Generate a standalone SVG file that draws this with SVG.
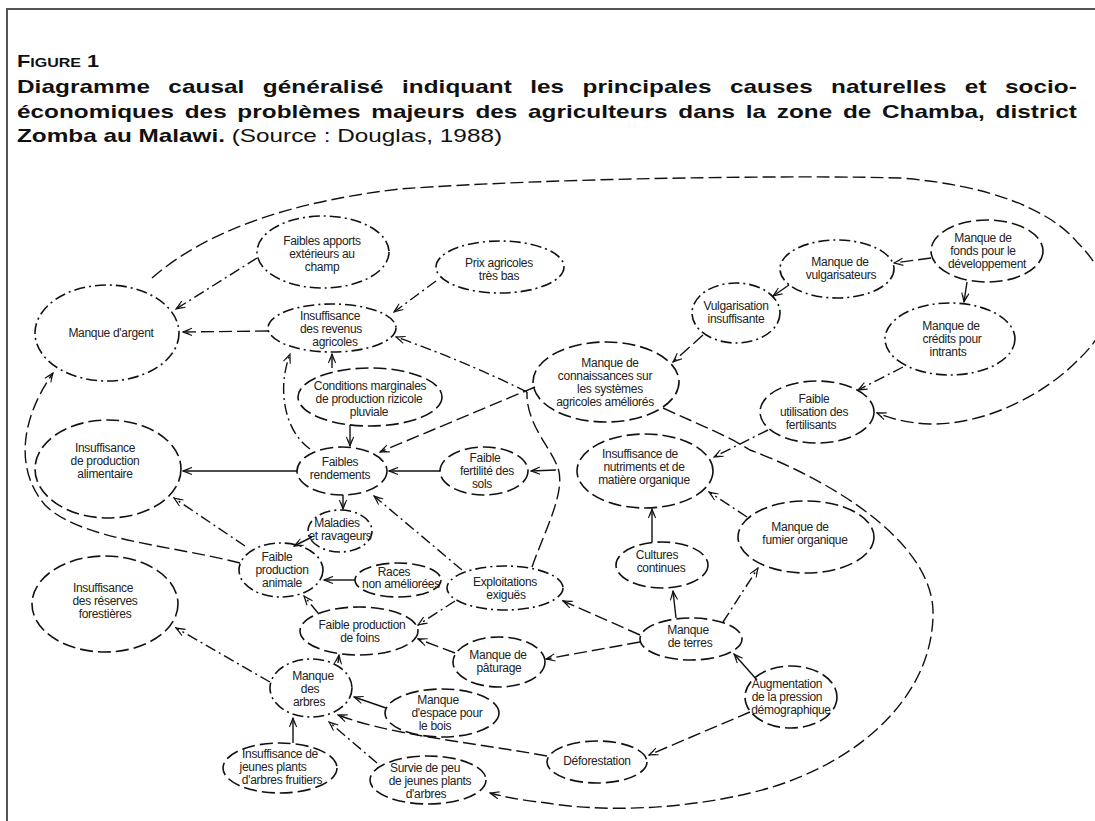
<svg xmlns="http://www.w3.org/2000/svg" width="1095" height="821" viewBox="0 0 1095 821">
  <defs>
    <style>
      .lbl { font-family: "Liberation Sans", Arial, sans-serif; font-size: 12px; fill: #222; text-anchor: middle; letter-spacing: -0.3px; }
      .ttl { font-family: "Liberation Sans", Arial, sans-serif; font-size: 19px; fill: #111; font-weight: bold; }
      .node ellipse { fill: none; stroke: #111; stroke-width: 1.6; }
      .dsh { stroke-dasharray: 13 5; }
      .dd { stroke-dasharray: 11 4 2 4; }
      #connectors path { fill: none; stroke: #111; stroke-width: 1.4; marker-end: url(#arr); }
      #connectors path.nohead { marker-end: none; }
    </style>
    <marker id="arr" viewBox="0 0 12 10" refX="11" refY="5" markerWidth="11" markerHeight="9" orient="auto" markerUnits="userSpaceOnUse">
      <path d="M1,1 L11,5 L1,9 M4,2.6 L11,5 L4,7.4" fill="none" stroke="#111" stroke-width="1.2"/>
    </marker>
  </defs>

  <rect width="1095" height="821" fill="#fff"/>

  <!-- frame -->
  <path d="M7,821 V9 H1095" fill="none" stroke="#555" stroke-width="2"/>

  <!-- heading, set in a horizontally widened face -->
  <g id="heading" transform="translate(17,0) scale(1.28,1)">
    <text class="ttl" x="0" y="67"><tspan font-size="17">F</tspan><tspan font-size="12.5">IGURE</tspan><tspan font-size="17"> 1</tspan></text>
    <text class="ttl" x="0" y="93" word-spacing="9" textLength="828" lengthAdjust="spacing">Diagramme causal généralisé indiquant les principales causes naturelles et socio-</text>
    <text class="ttl" x="0" y="118" word-spacing="3" textLength="828" lengthAdjust="spacing">économiques des problèmes majeurs des agriculteurs dans la zone de Chamba, district</text>
    <text class="ttl" x="0" y="142">Zomba au Malawi.<tspan font-weight="normal"> (Source : Douglas, 1988)</tspan></text>
  </g>

  <!-- causal links -->
  <g id="connectors">
    <path class="dd" d="M257,258 L176,309"/>
    <path class="dsh" d="M268,331 L183,332"/>
    <path class="dd" d="M436,281 L394,312"/>
    <path class="dd" d="M527,392 Q462,360 396,337"/>
    <path class="dsh" d="M535,387 L380,452"/>
    <path class="dsh nohead" d="M532,567 C545,530 566,492 558,468 C550,446 526,424 527,392"/>
    <path d="M556,470 L531,471"/>
    <path d="M332,368 L332,354"/>
    <path d="M350,425 L350,446"/>
    <path class="dd" d="M310,449 C286,432 276,392 290,354"/>
    <path d="M297,471 L183,471"/>
    <path d="M440,471 L389,471"/>
    <path d="M343,495 L343,509"/>
    <path d="M312,537 L294,546"/>
    <path class="dd" d="M462,570 L374,496"/>
    <path d="M355,580 L324,580"/>
    <path class="dd" d="M318,613 L304,596"/>
    <path class="dd" d="M455,601 L418,625"/>
    <path class="dsh" d="M455,653 L418,639"/>
    <path class="dd" d="M245,546 L174,498"/>
    <path class="dsh" d="M240,563 C170,545 80,540 45,505 C15,470 20,420 53,373"/>
    <path class="dsh" d="M703,335 L673,362"/>
    <path d="M789,285 L773,296"/>
    <path class="dsh" d="M931,258 L894,263"/>
    <path d="M967,282 L964,302"/>
    <path class="dd" d="M903,367 L858,390"/>
    <path class="dd" d="M768,430 L714,457"/>
    <path class="dd" d="M747,517 L709,492"/>
    <path d="M652,542 L652,509"/>
    <path d="M676,618 L673,591"/>
    <path class="dd" d="M723,622 L758,568"/>
    <path class="dsh" d="M640,635 L563,601"/>
    <path class="dsh" d="M640,642 L546,659"/>
    <path d="M757,680 L734,654"/>
    <path class="dsh" d="M750,712 L649,755"/>
    <path class="dsh" d="M547,756 C470,742 390,735 338,715"/>
    <path d="M386,708 L354,697"/>
    <path class="dd" d="M377,763 L329,722"/>
    <path d="M293,743 L293,718"/>
    <path d="M338,663 L339,655"/>
    <path class="dd" d="M270,682 L176,628"/>
    <path class="dsh" d="M663,408 C700,425 730,437 750,450 C830,480 930,540 933,610 C935,700 850,770 750,793 C680,810 600,812 547,803 C520,800 505,797 490,793"/>
    <path class="dsh" d="M152,278 C190,245 260,205 400,189 C550,178 800,175 900,178 C990,185 1050,210 1077,242 C1120,285 1115,325 1080,358 C1050,390 990,425 930,424 C905,423 890,418 877,413"/>
  </g>

  <!-- nodes -->
  <g id="n-manque-argent" class="node">
    <ellipse class="dd" cx="107" cy="333" rx="72" ry="48"/>
    <text class="lbl"><tspan x="111" y="337">Manque d'argent</tspan></text>
  </g>
  <g id="n-apports" class="node">
    <ellipse class="dd" cx="323" cy="252" rx="66" ry="36"/>
    <text class="lbl"><tspan x="322" y="245">Faibles apports</tspan><tspan x="322" y="258">extérieurs au</tspan><tspan x="322" y="271">champ</tspan></text>
  </g>
  <g id="n-revenus" class="node">
    <ellipse class="dd" cx="332" cy="328" rx="64" ry="24"/>
    <text class="lbl"><tspan x="330" y="320">Insuffisance</tspan><tspan x="331" y="333">des revenus</tspan><tspan x="335" y="346">agricoles</tspan></text>
  </g>
  <g id="n-prix" class="node">
    <ellipse class="dd" cx="500" cy="267" rx="64" ry="26"/>
    <text class="lbl"><tspan x="499" y="267">Prix agricoles</tspan><tspan x="499" y="280">très bas</tspan></text>
  </g>
  <g id="n-vulgarisation" class="node">
    <ellipse class="dd" cx="736" cy="313" rx="44" ry="30"/>
    <text class="lbl"><tspan x="736" y="310">Vulgarisation</tspan><tspan x="736" y="323">insuffisante</tspan></text>
  </g>
  <g id="n-connaissances" class="node">
    <ellipse class="dsh" cx="606" cy="382" rx="73" ry="40"/>
    <text class="lbl"><tspan x="610" y="367">Manque de</tspan><tspan x="605" y="380">connaissances sur</tspan><tspan x="610" y="393">les systèmes</tspan><tspan x="605" y="406">agricoles améliorés</tspan></text>
  </g>
  <g id="n-vulgarisateurs" class="node">
    <ellipse class="dd" cx="837" cy="269" rx="57" ry="29"/>
    <text class="lbl"><tspan x="840" y="266">Manque de</tspan><tspan x="841" y="279">vulgarisateurs</tspan></text>
  </g>
  <g id="n-fonds" class="node">
    <ellipse class="dsh" cx="987" cy="251" rx="56" ry="31"/>
    <text class="lbl"><tspan x="983" y="242">Manque de</tspan><tspan x="983" y="255">fonds pour le</tspan><tspan x="987" y="268">développement</tspan></text>
  </g>
  <g id="n-credits" class="node">
    <ellipse class="dd" cx="950" cy="339" rx="65" ry="36"/>
    <text class="lbl"><tspan x="951" y="330">Manque de</tspan><tspan x="952" y="343">crédits pour</tspan><tspan x="948" y="356">intrants</tspan></text>
  </g>
  <g id="n-fertilisants" class="node">
    <ellipse class="dsh" cx="817" cy="412" rx="57" ry="31"/>
    <text class="lbl"><tspan x="814" y="403">Faible</tspan><tspan x="814" y="416">utilisation des</tspan><tspan x="811" y="429">fertilisants</tspan></text>
  </g>
  <g id="n-nutriments" class="node">
    <ellipse class="dsh" cx="645" cy="471" rx="68" ry="37"/>
    <text class="lbl"><tspan x="640" y="458">Insuffisance de</tspan><tspan x="644" y="471">nutriments et de</tspan><tspan x="644" y="484">matière organique</tspan></text>
  </g>
  <g id="n-fumier" class="node">
    <ellipse class="dsh" cx="806" cy="537" rx="68" ry="36"/>
    <text class="lbl"><tspan x="800" y="531">Manque de</tspan><tspan x="805" y="544">fumier organique</tspan></text>
  </g>
  <g id="n-cultures" class="node">
    <ellipse class="dsh" cx="662" cy="565" rx="46" ry="23"/>
    <text class="lbl"><tspan x="657" y="559">Cultures</tspan><tspan x="661" y="572">continues</tspan></text>
  </g>
  <g id="n-terres" class="node">
    <ellipse class="dsh" cx="691" cy="639" rx="51" ry="21"/>
    <text class="lbl"><tspan x="688" y="634">Manque</tspan><tspan x="690" y="647">de terres</tspan></text>
  </g>
  <g id="n-demographie" class="node">
    <ellipse class="dsh" cx="791" cy="697" rx="46" ry="31"/>
    <text class="lbl"><tspan x="787" y="688">Augmentation</tspan><tspan x="787" y="701">de la pression</tspan><tspan x="791" y="714">démographique</tspan></text>
  </g>
  <g id="n-deforestation" class="node">
    <ellipse class="dsh" cx="597" cy="762" rx="50" ry="21"/>
    <text class="lbl"><tspan x="597" y="765">Déforestation</tspan></text>
  </g>
  <g id="n-survie" class="node">
    <ellipse class="dsh" cx="428" cy="780" rx="58" ry="24"/>
    <text class="lbl"><tspan x="425" y="772">Survie de peu</tspan><tspan x="430" y="785">de jeunes plants</tspan><tspan x="426" y="798">d'arbres</tspan></text>
  </g>
  <g id="n-espace" class="node">
    <ellipse class="dsh" cx="442" cy="713" rx="57" ry="24"/>
    <text class="lbl"><tspan x="438" y="704">Manque</tspan><tspan x="447" y="717">d'espace pour</tspan><tspan x="435" y="730">le bois</tspan></text>
  </g>
  <g id="n-paturage" class="node">
    <ellipse class="dsh" cx="499" cy="662" rx="46" ry="25"/>
    <text class="lbl"><tspan x="498" y="659">Manque de</tspan><tspan x="499" y="672">pâturage</tspan></text>
  </g>
  <g id="n-foins" class="node">
    <ellipse class="dsh" cx="359" cy="631" rx="59" ry="24"/>
    <text class="lbl"><tspan x="362" y="629">Faible production</tspan><tspan x="360" y="642">de foins</tspan></text>
  </g>
  <g id="n-exploitations" class="node">
    <ellipse class="dd" cx="505" cy="588" rx="58" ry="22"/>
    <text class="lbl"><tspan x="505" y="586">Exploitations</tspan><tspan x="506" y="599">exiguës</tspan></text>
  </g>
  <g id="n-races" class="node">
    <ellipse class="dsh" cx="398" cy="580" rx="43" ry="17"/>
    <text class="lbl"><tspan x="394" y="576">Races</tspan><tspan x="401" y="588">non améliorées</tspan></text>
  </g>
  <g id="n-animale" class="node">
    <ellipse class="dd" cx="281" cy="570" rx="42" ry="27"/>
    <text class="lbl"><tspan x="277" y="561">Faible</tspan><tspan x="282" y="574">production</tspan><tspan x="282" y="587">animale</tspan></text>
  </g>
  <g id="n-maladies" class="node">
    <ellipse class="dd" cx="340" cy="531" rx="32" ry="21"/>
    <text class="lbl"><tspan x="337" y="527">Maladies</tspan><tspan x="340" y="540">et ravageurs</tspan></text>
  </g>
  <g id="n-rendements" class="node">
    <ellipse class="dsh" cx="342" cy="471" rx="45" ry="24"/>
    <text class="lbl"><tspan x="340" y="466">Faibles</tspan><tspan x="340" y="479">rendements</tspan></text>
  </g>
  <g id="n-conditions" class="node">
    <ellipse class="dsh" cx="370" cy="397" rx="72" ry="29"/>
    <text class="lbl"><tspan x="370" y="390">Conditions marginales</tspan><tspan x="369" y="403">de production rizicole</tspan><tspan x="369" y="416">pluviale</tspan></text>
  </g>
  <g id="n-fertilite" class="node">
    <ellipse class="dsh" cx="484" cy="471" rx="44" ry="24"/>
    <text class="lbl"><tspan x="485" y="462">Faible</tspan><tspan x="487" y="475">fertilité des</tspan><tspan x="482" y="488">sols</tspan></text>
  </g>
  <g id="n-alimentaire" class="node">
    <ellipse class="dsh" cx="108" cy="469" rx="73" ry="49"/>
    <text class="lbl"><tspan x="105" y="452">Insuffisance</tspan><tspan x="105" y="465">de production</tspan><tspan x="105" y="478">alimentaire</tspan></text>
  </g>
  <g id="n-forestieres" class="node">
    <ellipse class="dsh" cx="105" cy="604" rx="73" ry="48"/>
    <text class="lbl"><tspan x="103" y="592">Insuffisance</tspan><tspan x="105" y="605">des réserves</tspan><tspan x="105" y="618">forestières</tspan></text>
  </g>
  <g id="n-arbres" class="node">
    <ellipse class="dd" cx="311" cy="688" rx="41" ry="29"/>
    <text class="lbl"><tspan x="313" y="680">Manque</tspan><tspan x="310" y="693">des</tspan><tspan x="309" y="706">arbres</tspan></text>
  </g>
  <g id="n-fruitiers" class="node">
    <ellipse class="dsh" cx="280" cy="768" rx="57" ry="25"/>
    <text class="lbl"><tspan x="280" y="758">Insuffisance de</tspan><tspan x="273" y="771">jeunes plants</tspan><tspan x="282" y="784">d'arbres fruitiers</tspan></text>
  </g>
</svg>
